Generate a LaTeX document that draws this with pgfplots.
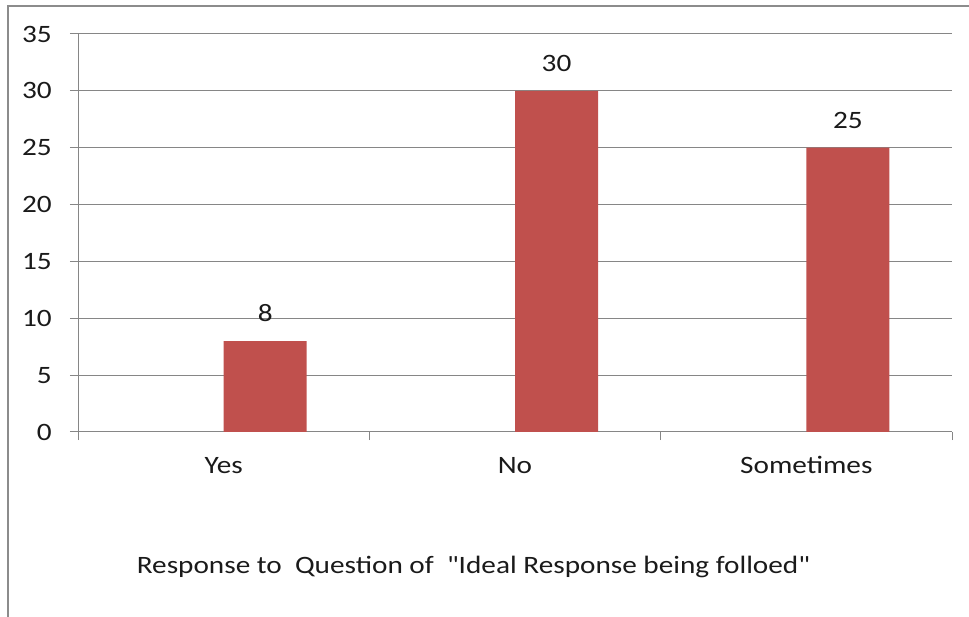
\documentclass[border=0pt]{standalone}
\usepackage{pgfplots}
\pgfplotsset{compat=1.18}
\usepackage{fontspec}
\setmainfont{Carlito}[Ligatures=TeXOff, FakeStretch=1.17]
\definecolor{barred}{HTML}{C0504D}
\definecolor{gridgray}{HTML}{868686}
\definecolor{framegray}{HTML}{8C8C8C}
\definecolor{txt}{HTML}{1A1A1A}
\begin{document}
\fontsize{25}{29}\selectfont
\begin{tikzpicture}
\useasboundingbox (0,0) rectangle (969pt,616pt);
\draw[framegray, line width=2pt] (8pt,-2pt) -- (8pt,610pt) -- (971pt,610pt);
\begin{axis}[
  at={(78pt,184pt)}, anchor=south west,
  scale only axis, width=874pt, height=398pt,
  xmin=-0.5, xmax=2.5, ymin=0, ymax=35,
  ytick={0,5,...,35},
  xtick={-0.5,0.5,1.5,2.5}, xticklabels={},
  extra x ticks={0,1,2}, extra x tick labels={Yes,No,Sometimes},
  extra x tick style={major tick length=0pt},
  axis x line*=bottom, axis y line*=left,
  axis line style={gridgray, line width=1pt},
  ymajorgrids, grid style={gridgray, line width=1pt},
  tick style={gridgray, line width=1pt},
  tick align=outside, major tick length=8pt,
  /pgf/number format/assume math mode=true,
  ticklabel style={font=\fontsize{25}{29}\selectfont, text=txt},
  yticklabel style={anchor=east, inner sep=0pt, xshift=-18pt},
  xticklabel style={anchor=base, inner sep=0pt, yshift=-42pt},
  clip=false,
]
\addplot[ybar, fill=barred, draw=none, bar width=83pt, bar shift=41.5pt,
  nodes near coords,
  nodes near coords style={anchor=base, inner sep=0pt, xshift=41.5pt, yshift=19.5pt, text=txt, font=\fontsize{25}{29}\selectfont}]
  coordinates {(0,8) (1,30) (2,25)};
\end{axis}
\node[anchor=base, text=txt, inner sep=0pt] at (473.5pt,43pt) {Response to\ \ Question of\ \ "Ideal Response being folloed"};
\end{tikzpicture}
\end{document}
